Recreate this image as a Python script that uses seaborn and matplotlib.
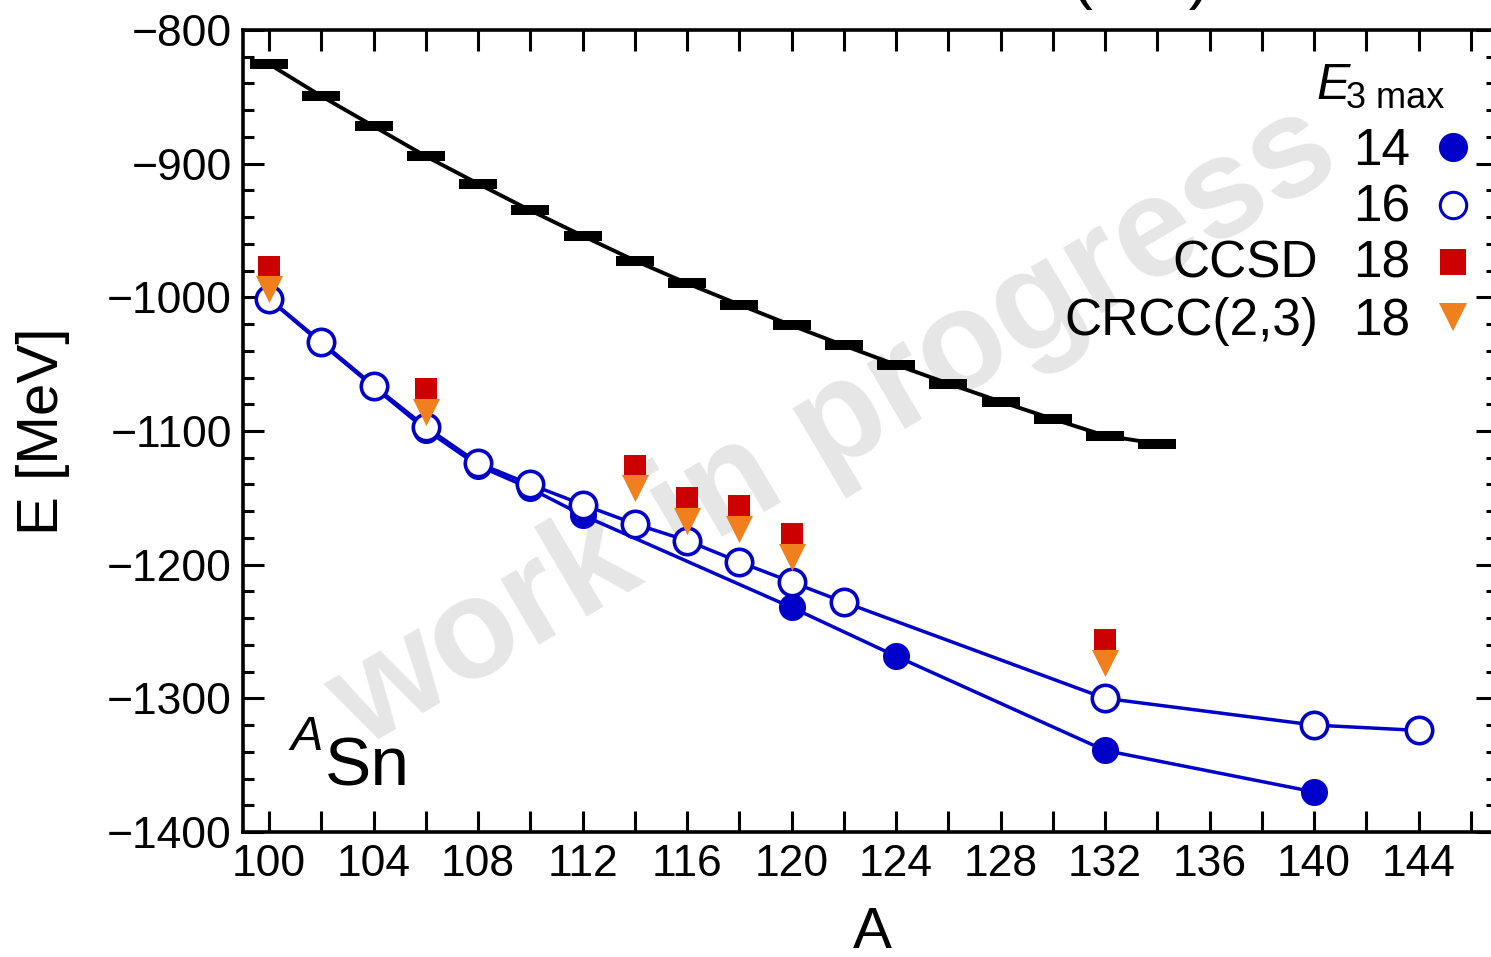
import matplotlib
matplotlib.use("Agg")
import matplotlib.pyplot as plt
import seaborn as sns
from matplotlib.ticker import MultipleLocator

# ---------------- data ----------------
A_exp = [100, 102, 104, 106, 108, 110, 112, 114, 116, 118, 120, 122, 124, 126, 128, 130, 132, 134]
E_exp = [-825.5, -849.5, -872, -894.5, -915, -935, -954, -972.5, -989.5, -1005.5,
         -1021, -1036, -1050.5, -1064.5, -1078, -1091, -1103.5, -1109.5]

A_e14 = [100, 102, 104, 106, 108, 110, 112, 120, 124, 132, 140]
E_e14 = [-1001.5, -1034.5, -1067, -1099, -1126, -1143, -1163, -1232, -1268.5, -1339, -1370]

A_e16 = [100, 102, 104, 106, 108, 110, 112, 114, 116, 118, 120, 122, 132, 140, 144]
E_e16 = [-1001, -1033.5, -1066, -1097, -1124, -1140, -1155, -1169.5, -1182, -1198,
         -1213, -1228, -1300, -1320, -1324]

A_cc = [100, 106, 114, 116, 118, 120, 132]
E_ccsd = [-977, -1068.5, -1126, -1150, -1156, -1177, -1256]
E_crcc = [-993.5, -1086, -1143, -1167, -1173.5, -1194, -1273.5]

x_ticks = [100, 104, 108, 112, 116, 120, 124, 128, 132, 136, 140, 144]
y_ticks = [-1400, -1300, -1200, -1100, -1000, -900, -800]

legend_labels = ["14", "16", "18", "18"]
legend_methods = ["", "", "CCSD", "CRCC(2,3)"]

BLUE = "#0000C8"
RED = "#CC0000"
ORANGE = "#F0801E"

# ---------------- style ----------------
sns.set_style("ticks")
plt.rcParams["font.family"] = ["Liberation Sans", "DejaVu Sans"]
plt.rcParams.update({
    "text.color": "black",
    "axes.labelcolor": "black",
    "xtick.color": "black",
    "ytick.color": "black",
    "xtick.labelcolor": "black",
    "ytick.labelcolor": "black",
    "axes.edgecolor": "black",
})

W, H = 1491, 957
fig = plt.figure(figsize=(W / 100, H / 100), dpi=100)
L, R, T, B = 243, 1497, 30, 832
ax = fig.add_axes([L / W, (H - B) / H, (R - L) / W, (B - T) / H])


def axc(px, py):
    return (px - L) / (R - L), (B - py) / (B - T)


# watermark
wx, wy = axc(835, 428)
ax.text(wx, wy, "work in progress", transform=ax.transAxes, fontsize=102,
        fontweight="bold", color="#e6e6e6", rotation=30.5, rotation_mode="anchor",
        ha="center", va="center", zorder=0)

# experimental (black bars + line)
sns.lineplot(x=A_exp, y=E_exp, color="black", linewidth=2.8, ax=ax,
             sort=False, estimator=None, zorder=2)
sns.lineplot(x=A_exp, y=E_exp, color="black", linestyle="", marker="_",
             markersize=28, markeredgewidth=7.2, markeredgecolor="black",
             ax=ax, sort=False, estimator=None, zorder=3)

# E3max = 14
sns.lineplot(x=A_e14, y=E_e14, color=BLUE, linewidth=2.5, marker="o",
             markersize=19.5, markerfacecolor=BLUE, markeredgecolor=BLUE,
             markeredgewidth=0, ax=ax, sort=False, estimator=None, zorder=3)
# E3max = 16
sns.lineplot(x=A_e16, y=E_e16, color=BLUE, linewidth=2.5, marker="o",
             markersize=19, markerfacecolor="white", markeredgecolor=BLUE,
             markeredgewidth=2.6, ax=ax, sort=False, estimator=None, zorder=4)

# CCSD / CRCC(2,3)
sns.scatterplot(x=A_cc, y=E_ccsd, marker="s", s=16.5 ** 2, color=RED,
                linewidth=0, ax=ax, zorder=5)
sns.scatterplot(x=A_cc, y=E_crcc, marker="v", s=19.5 ** 2, color=ORANGE,
                linewidth=0, ax=ax, zorder=6)

# axes
ax.set_xlim(99, 147)
ax.set_ylim(-1400, -800)
ax.set_xticks(x_ticks)
ax.set_yticks(y_ticks)
ax.xaxis.set_minor_locator(MultipleLocator(2))
ax.yaxis.set_minor_locator(MultipleLocator(20))
ax.tick_params(which="both", direction="in", top=True, right=True, width=2.2,
               labelsize=32, color="black", labelcolor="black")
ax.tick_params(which="major", length=15)
ax.tick_params(axis="x", which="minor", length=15)
ax.tick_params(axis="y", which="minor", length=8)
ax.tick_params(axis="x", pad=9)
ax.tick_params(axis="y", pad=8)
for sp in ax.spines.values():
    sp.set_linewidth(2.6)
    sp.set_color("black")
    sp.set_visible(True)

ax.set_xlabel("A", fontsize=42, color="black")
ax.set_ylabel("E [MeV]", fontsize=42, color="black")
ax.xaxis.set_label_coords(*axc(872, 906))
ax.yaxis.set_label_coords(*axc(70, 431))

# nucleus label
x1, y1 = axc(290, 750)
ax.text(x1, y1, "A", transform=ax.transAxes, fontsize=35, style="italic",
        ha="left", va="baseline", color="black")
x2, y2 = axc(325, 785)
ax.text(x2, y2, "Sn", transform=ax.transAxes, fontsize=50, ha="left",
        va="baseline", color="black")

# legend (manual)
ex, ey = axc(1316, 99)
ax.text(ex, ey, "E", transform=ax.transAxes, fontsize=36, style="italic",
        ha="left", va="baseline", color="black")
sx, sy = axc(1346, 108)
ax.text(sx, sy, "3 max", transform=ax.transAxes, fontsize=26,
        ha="left", va="baseline", color="black")

base_y = [165, 222, 278, 335]
mark_y = [147, 205, 262, 317]
for lab, meth, by in zip(legend_labels, legend_methods, base_y):
    tx, ty = axc(1410, by)
    ax.text(tx, ty, lab, transform=ax.transAxes, fontsize=37, ha="right",
            va="baseline", color="black")
    if meth:
        mx, my = axc(1318, by)
        ax.text(mx, my, meth, transform=ax.transAxes, fontsize=37, ha="right",
                va="baseline", color="black")

mx = axc(1453, 0)[0]
ax.plot([mx], [axc(0, mark_y[0])[1]], marker="o", markersize=21, color=BLUE,
        markeredgewidth=0, transform=ax.transAxes, clip_on=False, zorder=7)
ax.plot([mx], [axc(0, mark_y[1])[1]], marker="o", markersize=19, markerfacecolor="white",
        markeredgecolor=BLUE, markeredgewidth=2.2, transform=ax.transAxes, clip_on=False, zorder=7)
ax.plot([mx], [axc(0, mark_y[2])[1]], marker="s", markersize=19, color=RED,
        markeredgewidth=0, transform=ax.transAxes, clip_on=False, zorder=7)
ax.plot([mx], [axc(0, mark_y[3])[1]], marker="v", markersize=19.5, color=ORANGE,
        markeredgewidth=0, transform=ax.transAxes, clip_on=False, zorder=7)

# title (mostly cut off at top of image, as in the reference)
fig.text(1210 / W, (H + 3) / H, "1.8/2.0(EM)", fontsize=46, ha="right",
         va="baseline", color="black")

fig.savefig("out.png", dpi=100)
